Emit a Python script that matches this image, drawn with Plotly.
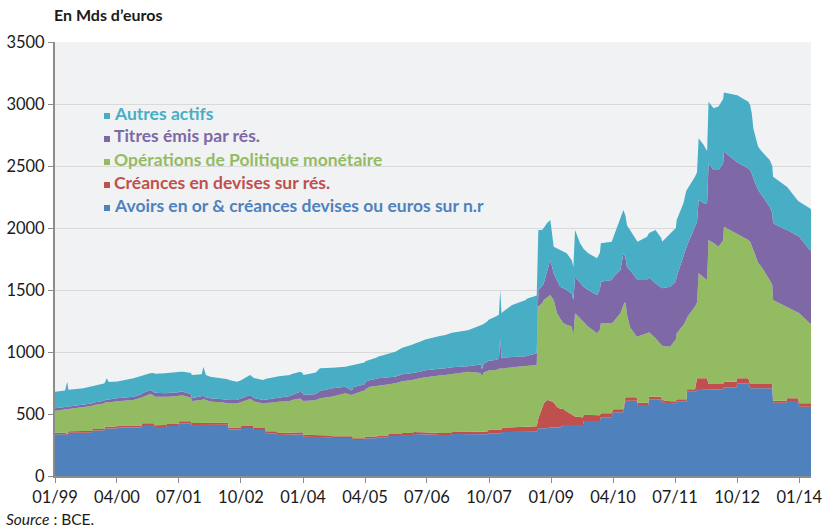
import plotly.graph_objects as go

dates = [
    "1999-01-01", "1999-03-16", "1999-04-01", "1999-04-10", "1999-07-28", "1999-09-28", "1999-10-04", "1999-11-28", "1999-12-28",
    "2000-01-04", "2000-01-16", "2000-02-01", "2000-03-28", "2000-04-04", "2000-08-01", "2000-09-28", "2000-10-04", "2000-12-01", "2000-12-28",
    "2001-01-04", "2001-03-28", "2001-04-04", "2001-06-28", "2001-07-04", "2001-08-01", "2001-09-28", "2001-10-04", "2001-12-16", "2001-12-28",
    "2002-01-16", "2002-02-16", "2002-05-22", "2002-06-28", "2002-07-04", "2002-09-01", "2002-09-28", "2002-10-04", "2002-12-07", "2002-12-28",
    "2003-01-04", "2003-03-13", "2003-03-28", "2003-04-04", "2003-06-19", "2003-07-04", "2003-09-28", "2003-10-04", "2003-12-10", "2003-12-28",
    "2004-01-04", "2004-03-28", "2004-04-04", "2004-05-04", "2004-07-28", "2004-08-04", "2004-11-07", "2004-12-25",
    "2005-01-04", "2005-03-28", "2005-04-04", "2005-05-07", "2005-06-28", "2005-07-04", "2005-09-16", "2005-09-22", "2005-11-10", "2005-12-25",
    "2006-01-01", "2006-03-19", "2006-03-25", "2006-05-10", "2006-06-13", "2006-06-19", "2006-09-19", "2006-09-25", "2006-11-13", "2006-12-25",
    "2007-01-01", "2007-04-28", "2007-05-04", "2007-08-01", "2007-08-10", "2007-08-22", "2007-09-22", "2007-09-28", "2007-11-16", "2007-12-13", "2007-12-22",
    "2008-01-01", "2008-01-07", "2008-03-19", "2008-06-28", "2008-07-04", "2008-09-16", "2008-09-28", "2008-10-25", "2008-11-07", "2008-12-01", "2008-12-25",
    "2009-01-19", "2009-02-13", "2009-03-07", "2009-04-01", "2009-04-25", "2009-06-01", "2009-06-13", "2009-06-25", "2009-08-01", "2009-08-22", "2009-08-28",
    "2009-10-01", "2009-12-04", "2009-12-25",
    "2010-01-01", "2010-03-22", "2010-04-01", "2010-05-25", "2010-06-16", "2010-07-01", "2010-07-13", "2010-08-04", "2010-09-22", "2010-09-28",
    "2010-12-07", "2010-12-16", "2010-12-22",
    "2011-02-07", "2011-03-22", "2011-03-28", "2011-05-25", "2011-07-07", "2011-07-13", "2011-09-01", "2011-09-22", "2011-09-28", "2011-11-25",
    "2011-12-10", "2011-12-22",
    "2012-01-28", "2012-02-22", "2012-03-04", "2012-04-10", "2012-05-16", "2012-06-19", "2012-06-25", "2012-09-25", "2012-10-01", "2012-12-22",
    "2013-01-04", "2013-01-16", "2013-01-28", "2013-03-04", "2013-03-28", "2013-05-28", "2013-06-16", "2013-06-22", "2013-09-28", "2013-10-04", "2013-12-22",
    "2014-01-01", "2014-03-19", "2014-03-28",
]

# Avoirs en or & créances devises ou euros sur non-résidents
avoirs_nr = [
    336, 336, 326, 349, 349, 349, 366, 366, 366,
    384, 384, 384, 384, 392, 392, 392, 411, 411, 411,
    395, 395, 403, 403, 425, 425, 425, 411, 411, 411,
    411, 411, 414, 414, 376, 376, 376, 387, 387, 387,
    371, 371, 371, 344, 344, 331, 331, 336, 336, 336,
    317, 317, 312, 312, 312, 306, 306, 306,
    290, 290, 304, 304, 304, 312, 312, 323, 323, 323,
    331, 331, 339, 339, 339, 333, 333, 331, 331, 331,
    339, 339, 336, 336, 336, 336, 336, 344, 344, 344, 344,
    344, 355, 355, 355, 357, 357, 385, 385, 385, 385, 392,
    392, 392, 392, 411, 411, 411, 411, 411, 411, 411, 444,
    444, 444, 444,
    473, 473, 514, 514, 514, 607, 607, 607, 607, 573,
    573, 573, 618,
    618, 618, 591, 586, 586, 599, 599, 599, 680, 680,
    694, 694,
    694, 694, 699, 699, 699, 699, 715, 715, 747, 747,
    707, 707, 707, 707, 707, 707, 707, 591, 591, 605, 605,
    559, 559, 559,
]

# Créances en devises sur résidents
creances_res = [
    12, 12, 12, 12, 13, 13, 13, 14, 14,
    14, 14, 14, 15, 15, 15, 15, 15, 15, 15,
    15, 16, 16, 16, 16, 16, 16, 16, 16, 16,
    16, 16, 16, 16, 16, 16, 16, 16, 16, 16,
    16, 16, 16, 16, 16, 16, 16, 16, 16, 16,
    16, 15, 15, 15, 15, 15, 15, 15,
    15, 15, 15, 15, 15, 15, 15, 15, 15, 16,
    16, 16, 16, 16, 16, 16, 16, 16, 16, 16,
    16, 17, 17, 18, 20, 20, 25, 32, 32, 32, 32,
    32, 35, 38, 40, 40, 45, 80, 160, 200, 228, 215,
    200, 165, 150, 130, 110, 85, 75, 68, 65, 60, 50,
    48, 45, 45,
    33, 33, 25, 24, 24, 28, 28, 28, 28, 18,
    18, 18, 22,
    22, 22, 22, 16, 16, 19, 19, 19, 19, 19,
    94, 94,
    94, 94, 43, 43, 43, 43, 46, 46, 41, 41,
    35, 35, 35, 35, 35, 35, 35, 16, 16, 22, 22,
    27, 27, 27,
]

# Opérations de politique monétaire
politique_mon = [
    178, 187, 202, 179, 191, 203, 191, 199, 205,
    194, 194, 197, 201, 195, 205, 221, 209, 236, 224,
    230, 227, 221, 226, 209, 209, 191, 178, 185, 193,
    183, 173, 162, 155, 193, 193, 203, 197, 217, 207,
    213, 198, 198, 228, 235, 251, 258, 258, 273, 263,
    272, 278, 285, 300, 313, 321, 346, 332,
    355, 385, 381, 401, 406, 401, 411, 402, 409, 421,
    418, 428, 423, 433, 440, 448, 459, 463, 468, 475,
    470, 484, 488, 476, 444, 479, 484, 474, 479, 484, 494,
    489, 475, 484, 490, 490, 493, 901, 848, 835, 827, 853,
    827, 755, 728, 690, 699, 708, 638, 833, 796, 779, 751,
    712, 662, 691,
    725, 725, 701, 774, 842, 771, 665, 565, 489, 533,
    560, 569, 520,
    470, 420, 437, 441, 498, 533, 600, 642, 581, 667,
    612, 847,
    812, 793, 1161, 1138, 1107, 1158, 1250, 1196, 1162, 1115,
    1148, 1118, 1081, 978, 946, 839, 798, 812, 759, 739, 693,
    726, 645, 639,
]

# Titres émis par résidents
titres_res = [
    20, 22, 20, 20, 20, 20, 20, 20, 21,
    21, 21, 21, 27, 26, 28, 32, 32, 32, 30,
    32, 29, 30, 30, 32, 30, 28, 22, 28, 28,
    25, 27, 27, 27, 27, 28, 27, 27, 33, 30,
    30, 28, 30, 30, 32, 32, 40, 40, 55, 57,
    50, 50, 50, 58, 65, 65, 53, 37,
    55, 50, 60, 54, 60, 60, 57, 57, 54, 55,
    55, 55, 54, 53, 55, 55, 54, 54, 53, 53,
    53, 46, 46, 70, 60, 70, 80, 80, 80, 85, 240,
    85, 90, 80, 80, 81, 94, 134, 137, 134, 210, 282,
    216, 268, 257, 283, 280, 266, 295, 296, 288, 280, 280,
    296, 309, 320,
    336, 350, 360, 349, 416, 354, 380, 461, 457, 457,
    430, 440, 440,
    444, 460, 464, 484, 470, 457, 542, 580, 580, 645,
    650, 591,
    600, 619, 619, 588, 619, 620, 605, 578, 580, 577,
    578, 580, 577, 587, 582, 591, 580, 619, 618, 618, 615,
    618, 592, 595,
]

# Autres actifs
autres_actifs = [
    134, 133, 201, 135, 134, 135, 135, 135, 139,
    142, 175, 142, 134, 135, 148, 145, 145, 134, 150,
    153, 161, 160, 163, 159, 161, 170, 188, 180, 234,
    180, 174, 169, 168, 163, 148, 148, 148, 162, 160,
    160, 161, 165, 167, 174, 175, 170, 170, 161, 158,
    160, 170, 173, 183, 165, 165, 162, 205,
    180, 175, 165, 161, 170, 174, 190, 193, 202, 215,
    215, 230, 233, 242, 245, 248, 263, 264, 269, 275,
    277, 289, 290, 315, 360, 320, 325, 330, 350, 355, 390,
    360, 365, 422, 455, 462, 466, 484, 454, 446, 390, 323,
    214, 255, 296, 296, 296, 270, 269, 376, 317, 310, 305,
    296, 296, 300,
    310, 309, 320, 430, 349, 340, 340, 323, 309, 309,
    349, 350, 360,
    430, 400, 376, 430, 430, 457, 440, 460, 450, 403,
    400, 497,
    469, 420, 497, 497, 512, 520, 476, 538, 540, 539,
    522, 485, 400, 349, 350, 377, 380, 376, 349, 346, 285,
    282, 336, 330,
]

series = [
    ("Avoirs en or & créances devises ou euros sur n.r", avoirs_nr, "#4f81bd"),
    ("Créances en devises sur rés.", creances_res, "#c0504d"),
    ("Opérations de Politique monétaire", politique_mon, "#93bc62"),
    ("Titres émis par rés.", titres_res, "#7f68a6"),
    ("Autres actifs", autres_actifs, "#48aec5"),
]

FONT = "Lato"
TXT = "#1a1a1a"

fig = go.Figure()
for name, vals, color in series:
    fig.add_trace(go.Scatter(
        x=dates, y=vals, name=name, stackgroup="one", mode="lines",
        line=dict(width=0, color=color), fillcolor=color, showlegend=False,
        hoverinfo="skip",
    ))

W, H = 824, 529
L, R, T, B = 55, 811, 42, 476


def px(x):
    return (x - L) / (R - L)


def py(y):
    return (B - y) / (B - T)


annotations = [
    dict(text="<b>En Mds d’euros</b>", x=px(52), y=py(15), xref="paper", yref="paper",
         xanchor="left", yanchor="middle", showarrow=False,
         font=dict(family=FONT, size=16, color=TXT)),
    dict(text="<i>Source</i> : BCE.", x=px(4), y=py(519), xref="paper", yref="paper",
         xanchor="left", yanchor="middle", showarrow=False,
         font=dict(family=FONT, size=15.5, color=TXT)),
]
shapes = []
legend_rows = [
    ("Autres actifs", "#48aec5", 113),
    ("Titres émis par rés.", "#7f68a6", 136),
    ("Opérations de Politique monétaire", "#93bc62", 159),
    ("Créances en devises sur rés.", "#c0504d", 182),
    ("Avoirs en or & créances devises ou euros sur n.r", "#4f81bd", 205),
]
for label, color, yc in legend_rows:
    annotations.append(dict(
        text="<b>" + label + "</b>", x=px(112), y=py(yc), xref="paper", yref="paper",
        xanchor="left", yanchor="middle", showarrow=False,
        font=dict(family=FONT, size=17.5, color=color)))
    shapes.append(dict(type="rect", xref="paper", yref="paper",
                       x0=px(104), x1=px(110), y0=py(yc + 6), y1=py(yc),
                       fillcolor=color, line=dict(width=0)))

fig.update_layout(
    width=W, height=H,
    margin=dict(l=L, r=W - R, t=T, b=H - B, autoexpand=False),
    paper_bgcolor="white", plot_bgcolor="#f1f2f4",
    font=dict(family=FONT, size=16.5, color=TXT),
    annotations=annotations, shapes=shapes,
    hovermode=False,
    xaxis=dict(
        type="date", range=["1999-01-01", "2014-03-28"],
        tick0="1999-01-01", dtick="M15", tickformat="%m/%y",
        ticks="outside", ticklen=5, tickcolor="#8c8c8c", tickwidth=1,
        showline=True, linecolor="#8c8c8c", linewidth=2,
        showgrid=False, zeroline=False, automargin=False,
        tickfont=dict(family=FONT, size=16.5, color=TXT),
    ),
    yaxis=dict(
        range=[0, 3500], dtick=500, tick0=0,
        ticks="outside", ticklen=5, tickcolor="#8c8c8c", tickwidth=1,
        showline=True, linecolor="#8c8c8c", linewidth=2,
        showgrid=True, gridcolor="#d9d9d9", gridwidth=1, zeroline=False, automargin=False,
        tickfont=dict(family=FONT, size=16.5, color=TXT),
    ),
)

# remove the default 8px page margin so the 824x529 figure fills the window exactly
fig.write_html(
    "out.html",
    config={"displayModeBar": False, "staticPlot": True},
    post_script="document.body.style.margin='0px';document.body.style.overflow='hidden';",
)
